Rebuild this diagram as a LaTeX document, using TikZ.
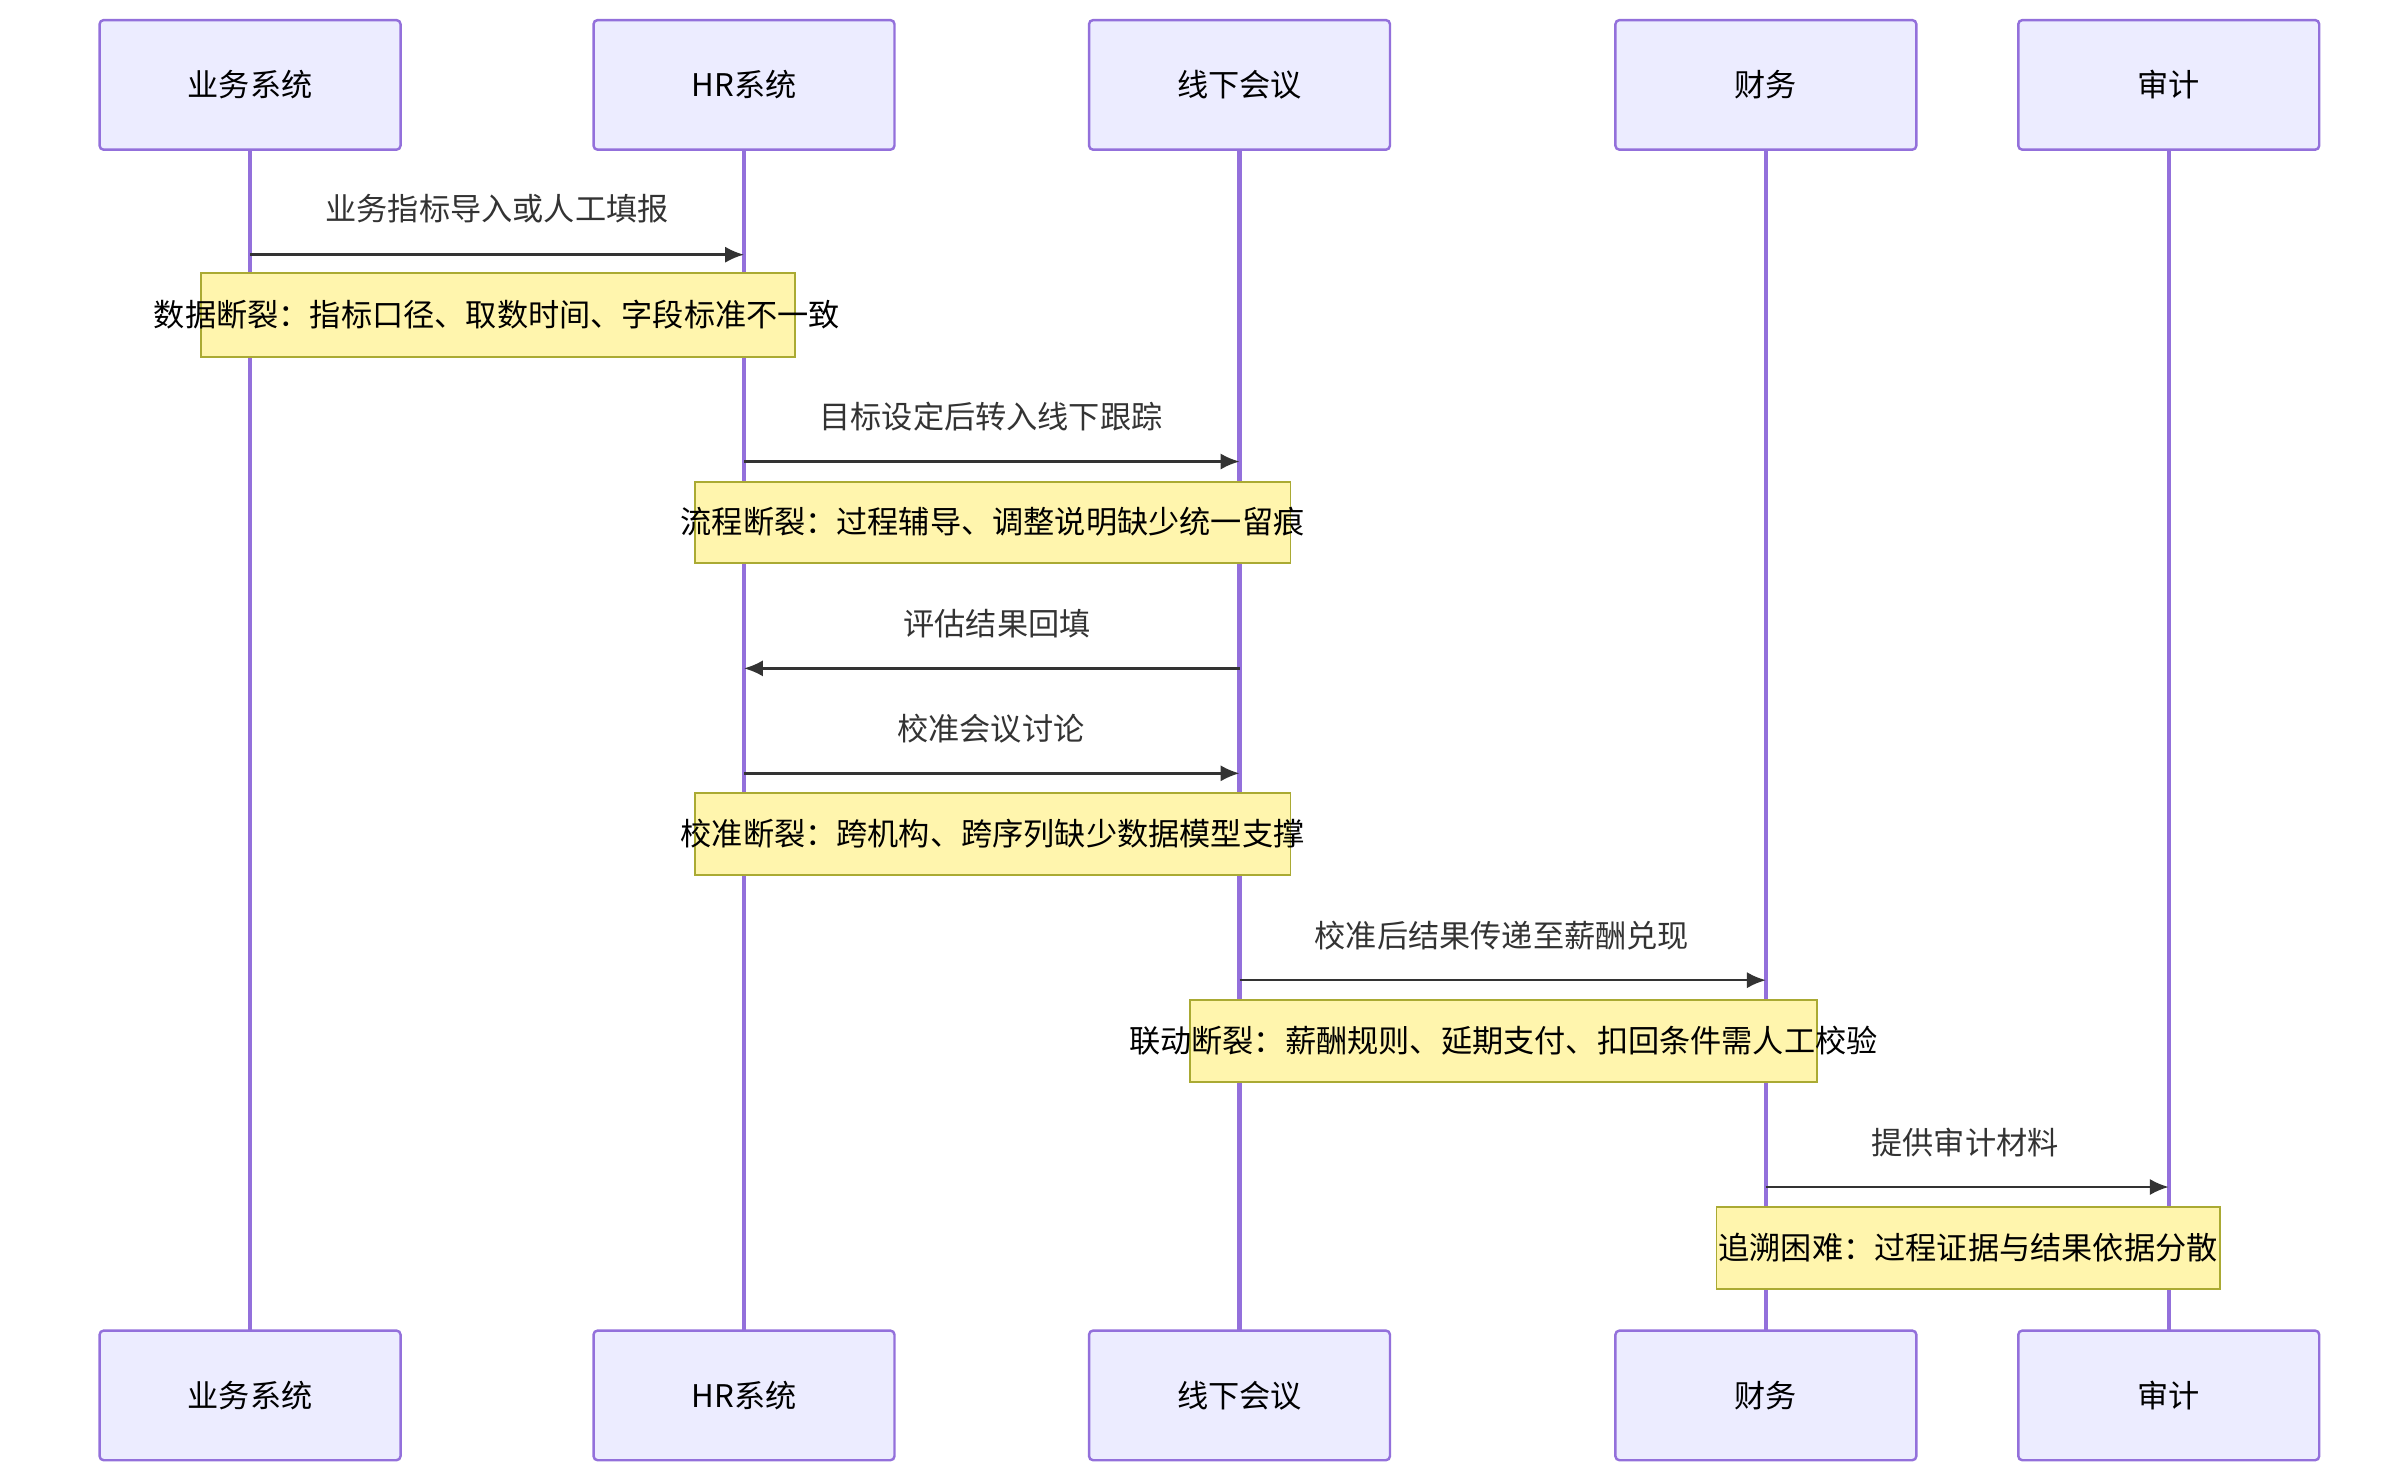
\documentclass[tikz,border=0pt]{standalone}
\usepackage{fontspec}
\setmainfont{Noto Sans CJK SC}
\usetikzlibrary{arrows.meta}
\definecolor{actfill}{HTML}{ECECFF}
\definecolor{actline}{HTML}{9370DB}
\definecolor{notefill}{HTML}{FFF5AD}
\definecolor{noteline}{HTML}{AAAA33}
\definecolor{msg}{HTML}{333333}
\begin{document}
\begin{tikzpicture}[x=0.02cm,y=-0.02cm,
  actor/.style={draw=actline,fill=actfill,line width=0.9pt,rounded corners=1.5pt,minimum width=3.9cm,minimum height=1.68cm,font=\fontsize{11.5}{13}\selectfont,inner sep=0},
  life/.style={draw=actline,line width=1.6pt},
  msgarrow/.style={draw=msg,line width=0.9pt,-{Latex[length=7pt,width=6pt]}},
  mlabel/.style={font=\fontsize{11.5}{13}\selectfont,text=msg},
  notebox/.style={draw=noteline,fill=notefill,line width=0.7pt},
  ntext/.style={font=\fontsize{11.5}{13}\selectfont}]
\useasboundingbox (0,0) rectangle (1560,956);
\foreach \n/\x/\t in {a/162/业务系统,b/482/HR系统,c/803/线下会议/表格,d/1144/财务/薪酬系统,e/1405/审计/监管响应}{
  \draw[life] (\x,97) -- (\x,862);
  \node[actor] (\n top) at (\x,55) {\t};
  \node[actor] (\n bot) at (\x,904) {\t};
}
% message 1
\coordinate (m1s) at (162,165); \coordinate (m1e) at (482,165);
\draw[msgarrow] (m1s) -- (m1e);
\node[mlabel] (l1) at (322,135) {业务指标导入或人工填报};
\draw[notebox] (130,177) rectangle (515,231);
\node[ntext] (n1) at (322,204) {数据断裂：指标口径、取数时间、字段标准不一致};
% message 2
\coordinate (m2s) at (482,299); \coordinate (m2e) at (803,299);
\draw[msgarrow] (m2s) -- (m2e);
\node[mlabel] (l2) at (642,270) {目标设定后转入线下跟踪};
\draw[notebox] (450,312) rectangle (836,365);
\node[ntext] (n2) at (643,338) {流程断裂：过程辅导、调整说明缺少统一留痕};
% message 3
\coordinate (m3s) at (803,433); \coordinate (m3e) at (482,433);
\draw[msgarrow] (m3s) -- (m3e);
\node[mlabel] (l3) at (646,404) {评估结果回填};
% message 4
\coordinate (m4s) at (482,501); \coordinate (m4e) at (803,501);
\draw[msgarrow] (m4s) -- (m4e);
\node[mlabel] (l4) at (642,472) {校准会议讨论};
\draw[notebox] (450,514) rectangle (836,567);
\node[ntext] (n3) at (643,540) {校准断裂：跨机构、跨序列缺少数据模型支撑};
% message 5
\coordinate (m5s) at (803,635); \coordinate (m5e) at (1144,635);
\draw[msgarrow] (m5s) -- (m5e);
\node[mlabel] (l5) at (973,606) {校准后结果传递至薪酬兑现};
\draw[notebox] (771,648) rectangle (1177,701);
\node[ntext] (n4) at (974,674) {联动断裂：薪酬规则、延期支付、扣回条件需人工校验};
% message 6
\coordinate (m6s) at (1144,769); \coordinate (m6e) at (1405,769);
\draw[msgarrow] (m6s) -- (m6e);
\node[mlabel] (l6) at (1273,740) {提供审计材料};
\draw[notebox] (1112,782) rectangle (1438,835);
\node[ntext] (n5) at (1275,808) {追溯困难：过程证据与结果依据分散};
\end{tikzpicture}
\end{document}
